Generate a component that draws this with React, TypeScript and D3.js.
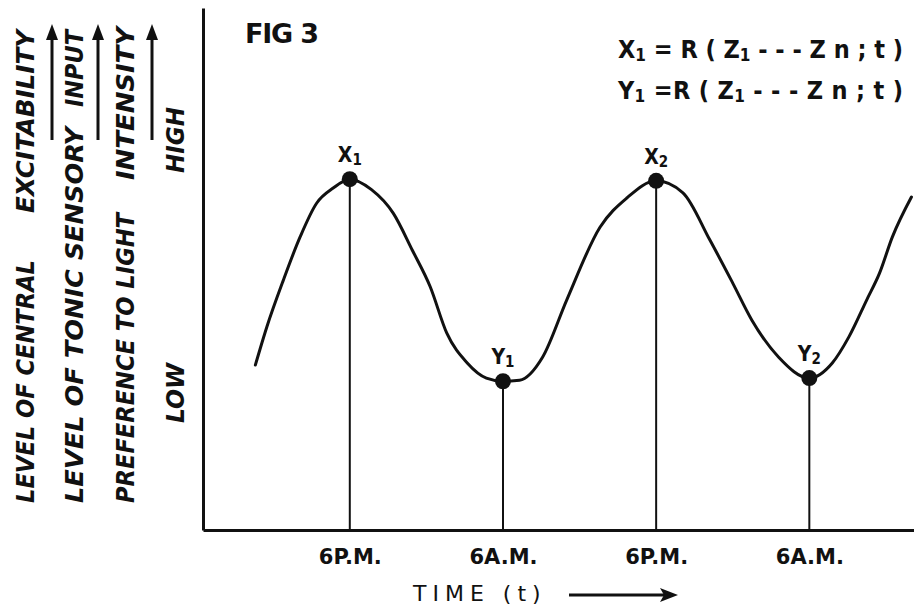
import React, { useEffect, useRef } from 'react';
import * as d3 from 'd3';

// curve: time in hours, level in arbitrary units
const hours = [10.6, 11.5, 12.8, 14.1, 15.4, 16.7, 18, 19.7, 21.4, 22.9, 24.3, 25.6, 27.2, 28.7, 30, 31.3, 33.1, 35.0, 37.6, 39.7, 42, 44.1, 46.2, 48.0, 49.5, 51.6, 54, 55.8, 57.1, 58.5, 59.5, 60.5, 62.0];
const levels = [3.16, 3.89, 4.79, 5.61, 6.26, 6.55, 6.72, 6.52, 6.07, 5.36, 4.66, 3.77, 3.20, 2.91, 2.85, 2.87, 3.31, 4.41, 5.80, 6.36, 6.69, 6.46, 5.56, 4.73, 4.02, 3.31, 2.91, 3.20, 3.70, 4.41, 4.92, 5.61, 6.38];

const markerHours = [18, 30, 42, 54];
const markerLevels = [6.72, 2.85, 6.69, 2.91];
const markerNames = ['X', 'Y', 'X', 'Y'];
const markerSubs = ['1', '1', '2', '2'];
const tickLabels = ['6P.M.', '6A.M.', '6P.M.', '6A.M.'];

// rotated y-axis captions: text, column x, bottom y, top y
const captions: [string, number, number, number][] = [
  ['LEVEL OF CENTRAL', 25, 503, 260],
  ['EXCITABILITY', 25, 213, 30],
  ['LEVEL OF TONIC SENSORY', 74, 503, 127],
  ['INPUT', 74, 107, 30],
  ['PREFERENCE TO LIGHT', 125, 503, 213],
  ['INTENSITY', 125, 180, 27],
  ['HIGH', 175, 173, 107],
  ['LOW', 175, 423, 363],
];
const upArrows = [52, 98, 152];

const W = 914, H = 608;
const font = '"DejaVu Sans", sans-serif';
const narrow = '"DejaVu Sans Condensed", "DejaVu Sans", sans-serif';

export default function App() {
  const ref = useRef<SVGSVGElement>(null);

  useEffect(() => {
    const svg = d3.select(ref.current);
    svg.selectAll('*').remove();

    const x = d3.scaleLinear().domain([6.5, 62.2]).range([203, 914]);
    const y = d3.scaleLinear().domain([0, 10]).range([530, 8]);

    // axes
    const xAxis = svg.append('g')
      .attr('transform', 'translate(0,' + y(0) + ')')
      .call(d3.axisBottom(x)
        .tickValues(markerHours)
        .tickSize(0)
        .tickSizeOuter(0)
        .tickPadding(19)
        .tickFormat((d, i) => tickLabels[i]));
    xAxis.select('.domain').attr('stroke', '#111').attr('stroke-width', 3);
    xAxis.selectAll('text')
      .attr('fill', '#111')
      .style('font-family', font)
      .style('font-size', '21px')
      .style('font-weight', 'bold');

    const yAxis = svg.append('g')
      .attr('transform', 'translate(' + x(6.5) + ',0)')
      .call(d3.axisLeft(y).tickValues([]).tickSizeOuter(0));
    yAxis.select('.domain').attr('stroke', '#111').attr('stroke-width', 3);

    // stems from the markers down to the time axis
    svg.append('g').selectAll('line')
      .data(markerHours)
      .join('line')
      .attr('x1', (d) => x(d))
      .attr('x2', (d) => x(d))
      .attr('y1', (d, i) => y(markerLevels[i]))
      .attr('y2', y(0))
      .attr('stroke', '#111')
      .attr('stroke-width', 2);

    // the curve
    const line = d3.line<number>()
      .x((d) => x(d))
      .y((d, i) => y(levels[i]))
      .curve(d3.curveMonotoneX);
    svg.append('path')
      .datum(hours)
      .attr('d', line)
      .attr('fill', 'none')
      .attr('stroke', '#111')
      .attr('stroke-width', 3)
      .attr('stroke-linecap', 'round');

    // markers
    svg.append('g').selectAll('circle')
      .data(markerHours)
      .join('circle')
      .attr('cx', (d) => x(d))
      .attr('cy', (d, i) => y(markerLevels[i]))
      .attr('r', 8)
      .attr('fill', '#111');

    const labels = svg.append('g').selectAll('text')
      .data(markerHours)
      .join('text')
      .attr('x', (d) => x(d))
      .attr('y', (d, i) => y(markerLevels[i]) - 17)
      .attr('text-anchor', 'middle')
      .attr('fill', '#111')
      .style('font-family', narrow)
      .style('font-size', '21px')
      .style('font-weight', 'bold');
    labels.append('tspan').text((d, i) => markerNames[i]);
    labels.append('tspan')
      .attr('dy', 3)
      .style('font-size', '15px')
      .text((d, i) => markerSubs[i]);

    // rotated captions on the left
    svg.append('g').selectAll('text')
      .data(captions)
      .join('text')
      .attr('transform', (d) => 'translate(' + d[1] + ',' + d[2] + ') rotate(-90)')
      .attr('dominant-baseline', 'central')
      .attr('textLength', (d) => d[2] - d[3])
      .attr('lengthAdjust', 'spacingAndGlyphs')
      .attr('fill', '#111')
      .style('font-family', narrow)
      .style('font-size', '25px')
      .style('font-style', 'italic')
      .style('font-weight', 'bold')
      .text((d) => d[0]);

    const arrows = svg.append('g').attr('fill', '#111').attr('stroke', '#111');
    upArrows.forEach((ax) => {
      arrows.append('line')
        .attr('x1', ax).attr('x2', ax)
        .attr('y1', 140).attr('y2', 36)
        .attr('stroke-width', 3);
      arrows.append('path')
        .attr('d', 'M' + ax + ',24 L' + (ax - 6) + ',40 L' + (ax + 6) + ',40 Z')
        .attr('stroke', 'none');
    });

    // title and formulae
    svg.append('text')
      .attr('x', 245).attr('y', 43)
      .attr('textLength', 74)
      .attr('fill', '#111')
      .style('font-family', font)
      .style('font-size', '27px')
      .style('font-weight', 600)
      .text('FIG 3');

    const formula = (yy: number, head: string, sep: string) => {
      const t = svg.append('text')
        .attr('x', 618).attr('y', yy)
        .attr('textLength', 285)
        .attr('fill', '#111')
        .style('font-family', narrow)
        .style('font-size', '25px')
        .style('font-weight', 'bold');
      t.append('tspan').text(head);
      t.append('tspan').attr('dy', 3).style('font-size', '17px').text('1');
      t.append('tspan').attr('dy', -3).text(sep + 'R ( Z');
      t.append('tspan').attr('dy', 3).style('font-size', '17px').text('1');
      t.append('tspan').attr('dy', -3).text(' - - - Z n  ; t )');
    };
    formula(58, 'X', ' = ');
    formula(99, 'Y', ' =');

    // time axis caption with arrow
    svg.append('text')
      .attr('x', 413).attr('y', 601)
      .attr('letter-spacing', 6)
      .attr('fill', '#111')
      .style('font-family', font)
      .style('font-size', '22px')
      .text('TIME (t)');
    svg.append('line')
      .attr('x1', 569).attr('x2', 664)
      .attr('y1', 595).attr('y2', 595)
      .attr('stroke', '#111')
      .attr('stroke-width', 3);
    svg.append('path')
      .attr('d', 'M678,595 L660,588 L664,595 L660,602 Z')
      .attr('fill', '#111');
  }, []);

  return (
    <svg ref={ref} width={W} height={H}
      style={{ position: 'absolute', left: 0, top: 0, background: '#fff' }} />
  );
}
